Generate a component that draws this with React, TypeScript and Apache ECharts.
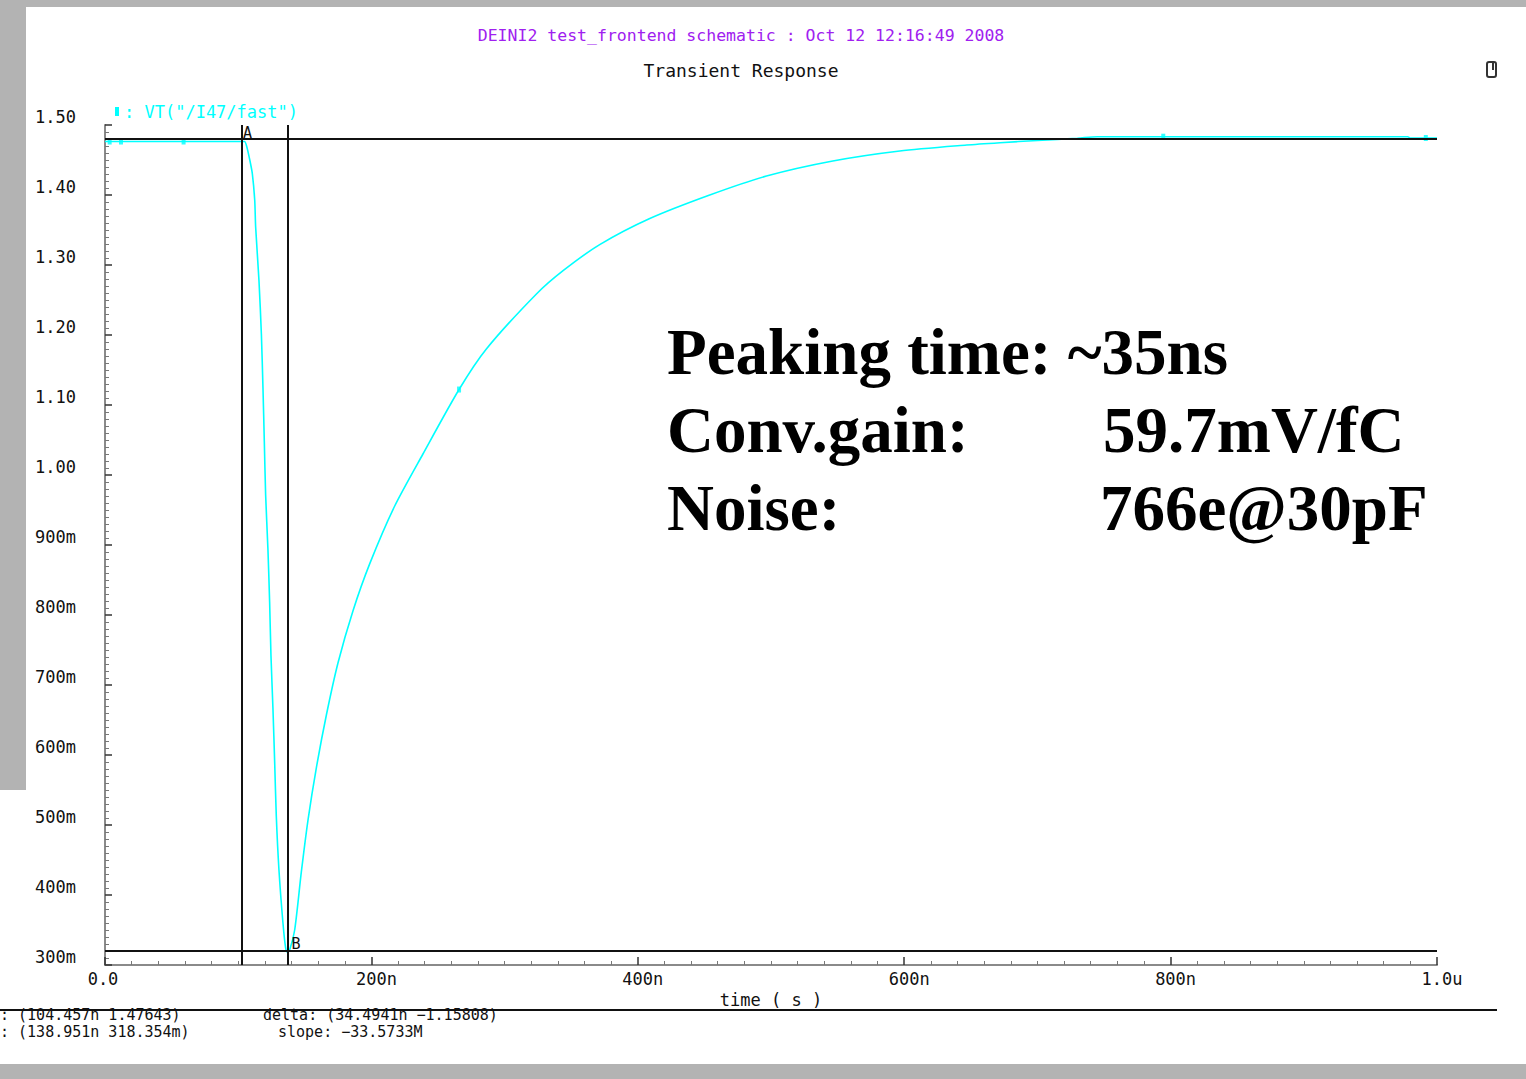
import React, { useEffect, useRef } from "react";
import * as echarts from "echarts";

// ---- data (time in ns, voltage in V) ----
const timeNs = [
  0, 102.2, 104.8, 106.3, 108.7, 110.6, 112.4, 113.1, 115.6, 117.4, 118.6, 119.6, 120.6,
  122.3, 123.6, 124.6, 126.1, 127.4, 128.6, 130.6, 133.6, 135.6, 136.8, 138.6, 142.4,
  147.4, 152.4, 158.7, 166.2, 174.9, 186.2, 198.7, 217.5, 238.7, 265.8, 286.3, 323.9,
  343.9, 371.4, 409.0, 454.0, 496.6, 546.4, 596.7, 646.8, 671.9, 700, 730, 745, 978, 980, 1000,
];
const volts = [
  1.4764, 1.4764, 1.4764, 1.47, 1.45, 1.4306, 1.3929, 1.3543, 1.2776, 1.2014, 1.1243, 1.0486,
  0.9714, 0.895, 0.8186, 0.742, 0.6657, 0.5886, 0.5129, 0.4357, 0.36, 0.3243, 0.3184,
  0.3214, 0.35, 0.4329, 0.5071, 0.582, 0.6571, 0.7314, 0.8061, 0.873, 0.9557, 1.03,
  1.1221, 1.18, 1.2586, 1.2919, 1.3291, 1.3664, 1.4, 1.4271, 1.4486, 1.4629, 1.4714,
  1.4747, 1.4779, 1.481, 1.4833, 1.4833, 1.4814, 1.4814,
];
const markerTimes = [3.5, 12, 59, 265.8, 794.5, 991.6];
const markerVolts = [1.4764, 1.4764, 1.4764, 1.1221, 1.4833, 1.4814];

const cursorA = { t: 102.5, v: 1.47643 };
const cursorB = { t: 137.3, v: 0.318354 };

const xTickLabels: Record<number, string> = { 0: "0.0", 200: "200n", 400: "400n", 600: "600n", 800: "800n", 1000: "1.0u" };

const titleText = "DEINI2 test_frontend schematic : Oct 12 12:16:49 2008";
const subTitleText = "Transient Response";
const seriesName = 'VT("/I47/fast")';
const readoutA = ": (104.457n 1.47643)";
const readoutB = ": (138.951n 318.354m)";
const readoutDelta = "delta: (34.4941n \u22121.15808)";
const readoutSlope = "slope: \u221233.5733M";
const noteLines = [
  ["Peaking time: ~35ns", ""],
  ["Conv.gain:", "59.7mV/fC"],
  ["Noise:", "766e@30pF"],
];

const FONT = '"DejaVu Sans Mono", monospace';
const CYAN = "#00ffff";
const GRAY = "#b3b3b3";

export default function App() {
  const ref = useRef<HTMLDivElement>(null);
  useEffect(() => {
    if (!ref.current) return;
    const chart = echarts.init(ref.current, undefined, { renderer: "svg" });
    const lineData = timeNs.map((t, i) => [t, volts[i]]);
    const markerData = markerTimes.map((t, i) => [t, markerVolts[i]]);

    const noteGraphics: any[] = [];
    noteLines.forEach((ln, i) => {
      const y = 355 + i * 78;
      noteGraphics.push({
        type: "text", left: 667, top: y - 36, z: 10,
        style: { text: ln[0], font: 'bold 65px "Liberation Serif", serif', fill: "#000" },
      });
      if (ln[1]) {
        noteGraphics.push({
          type: "text", left: i === 1 ? 1103 : 1100, top: y - 36, z: 10,
          style: { text: ln[1], font: 'bold 65px "Liberation Serif", serif', fill: "#000" },
        });
      }
    });

    chart.setOption({
      animation: false,
      backgroundColor: "#ffffff",
      title: [
        {
          text: titleText, left: 736, top: 22, textAlign: "center",
          textStyle: { color: "#a020f0", fontFamily: FONT, fontSize: 16.5, fontWeight: "normal" },
        },
        {
          text: subTitleText, left: 736, top: 56, textAlign: "center",
          textStyle: { color: "#111", fontFamily: FONT, fontSize: 18, fontWeight: "normal" },
        },
      ],
      legend: {
        data: [seriesName],
        left: 110, top: 98,
        icon: "rect", itemWidth: 4, itemHeight: 9, itemGap: 5,
        formatter: (n: string) => ": " + n,
        textStyle: { color: CYAN, fontFamily: FONT, fontSize: 17 },
      },
      grid: { left: 105, top: 125, width: 1332, height: 840, containLabel: false },
      xAxis: {
        type: "value", min: 0, max: 1000, interval: 200,
        name: "time ( s )", nameLocation: "middle", nameGap: 22,
        nameTextStyle: { color: "#111", fontFamily: FONT, fontSize: 17 },
        axisLine: { show: true, onZero: false, lineStyle: { color: "#8a8a8a", width: 2 } },
        axisTick: { show: true, inside: true, length: 8, lineStyle: { color: "#333", width: 1.5 } },
        minorTick: { show: true, splitNumber: 10, length: 4, lineStyle: { color: "#777", width: 1 } },
        splitLine: { show: false },
        axisLabel: {
          margin: 5, color: "#111", fontFamily: FONT, fontSize: 17,
          showMinLabel: true, showMaxLabel: true,
          formatter: (v: number) => {
            const s = xTickLabels[Math.round(v)] ?? "";
            return v === 0 ? `{z|${s}}` : `{u|${s}}`;
          },
          rich: {
            z: { fontFamily: FONT, fontSize: 17, color: "#111", padding: [0, 4, 0, 0] },
            u: { fontFamily: FONT, fontSize: 17, color: "#111", padding: [0, 0, 0, 10] },
          },
        },
      },
      yAxis: {
        type: "value", min: 0.3, max: 1.5, interval: 0.1,
        axisLine: { show: true, onZero: false, lineStyle: { color: "#8a8a8a", width: 2 } },
        axisTick: { show: true, inside: true, length: 7, lineStyle: { color: "#333", width: 1.5 } },
        minorTick: { show: true, splitNumber: 10, length: 4, lineStyle: { color: "#777", width: 1 } },
        splitLine: { show: false },
        axisLabel: {
          align: "left", verticalAlign: "bottom", margin: 70,
          color: "#111", fontFamily: FONT, fontSize: 17,
          showMinLabel: true, showMaxLabel: true,
          formatter: (v: number) => (v >= 0.999 ? v.toFixed(2) : Math.round(v * 1000) + "m"),
        },
      },
      series: [
        {
          name: seriesName,
          type: "line",
          data: lineData,
          showSymbol: false,
          smooth: 0.25,
          lineStyle: { color: CYAN, width: 1.6 },
          itemStyle: { color: CYAN },
          z: 3,
          markLine: {
            silent: true, symbol: ["none", "none"], animation: false,
            label: { show: false },
            lineStyle: { color: "#111", width: 2, type: "solid" },
            data: [
              { xAxis: cursorA.t }, { xAxis: cursorB.t },
              { yAxis: cursorA.v }, { yAxis: cursorB.v },
            ],
          },
          markPoint: {
            silent: true, symbol: "rect", symbolSize: 1,
            itemStyle: { color: "rgba(0,0,0,0)" },
            label: { show: true, color: "#111", fontFamily: FONT, fontSize: 15 },
            data: [
              { coord: [cursorA.t, cursorA.v], label: { formatter: "A", position: [2, -15] } },
              { coord: [cursorB.t, cursorB.v], label: { formatter: "B", position: [4, -15] } },
            ],
          },
        },
        {
          name: "markers",
          type: "scatter",
          data: markerData,
          symbol: "rect",
          symbolSize: [4, 6],
          itemStyle: { color: CYAN },
          z: 4,
          silent: true,
        },
      ],
      graphic: [
        { type: "rect", shape: { x: 0, y: 0, width: 1526, height: 7 }, style: { fill: GRAY }, z: 1 },
        { type: "rect", shape: { x: 0, y: 0, width: 26, height: 790 }, style: { fill: GRAY }, z: 1 },
        { type: "rect", shape: { x: 0, y: 1064, width: 1526, height: 15 }, style: { fill: GRAY }, z: 1 },
        { type: "line", shape: { x1: 0, y1: 1010, x2: 1497, y2: 1010 }, style: { stroke: "#111", lineWidth: 2 } },
        { type: "rect", shape: { x: 1487, y: 62, width: 9, height: 15, r: 2 }, style: { fill: "none", stroke: "#333", lineWidth: 2 } },
        { type: "line", shape: { x1: 1493, y1: 63, x2: 1493, y2: 70 }, style: { stroke: "#333", lineWidth: 2 } },
        { type: "text", left: 0, top: 1007, style: { text: readoutA, font: `15px ${FONT}`, fill: "#111" } },
        { type: "text", left: 0, top: 1024, style: { text: readoutB, font: `15px ${FONT}`, fill: "#111" } },
        { type: "text", left: 263, top: 1007, style: { text: readoutDelta, font: `15px ${FONT}`, fill: "#111" } },
        { type: "text", left: 278, top: 1024, style: { text: readoutSlope, font: `15px ${FONT}`, fill: "#111" } },
        ...noteGraphics,
      ],
    });
    return () => chart.dispose();
  }, []);
  return <div ref={ref} style={{ position: "absolute", left: 0, top: 0, width: 1526, height: 1079 }} />;
}
